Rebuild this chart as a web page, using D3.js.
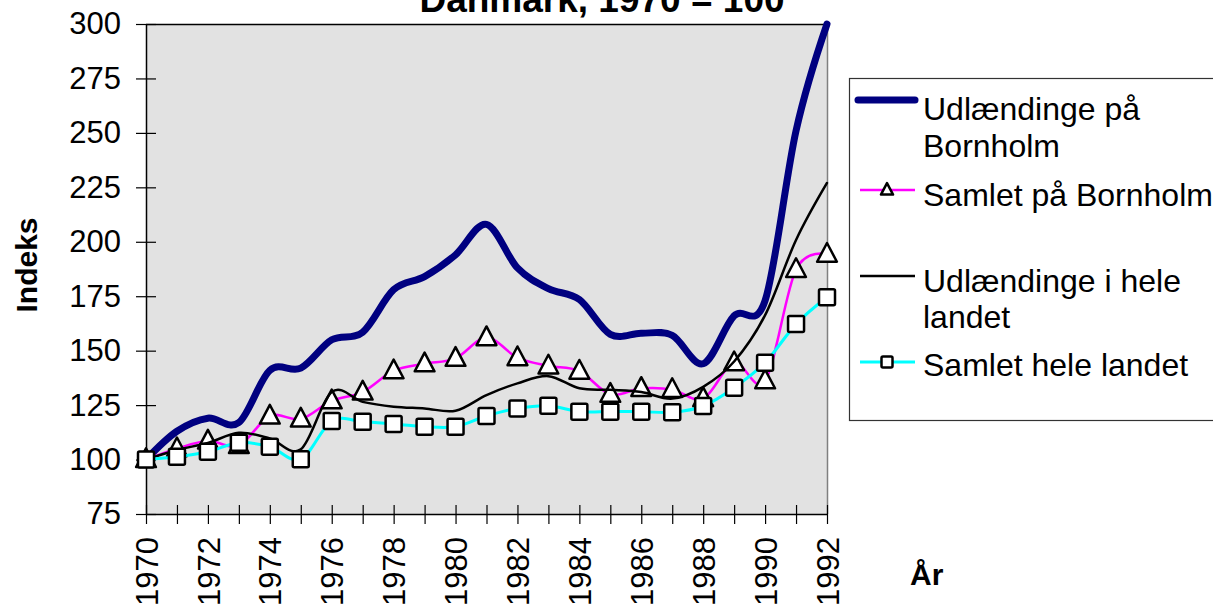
<!DOCTYPE html>
<html>
<head>
<meta charset="utf-8">
<script src="https://cdn.jsdelivr.net/npm/d3@7"></script>
<style>
  body { margin: 0; background: #fff; }
  svg { display: block; font-family: "Liberation Sans", Arial, sans-serif; }
</style>
</head>
<body>
<svg id="chart" width="1213" height="605"></svg>
<script>
// data (index, 1970 = 100)
let years = d3.range(1970, 1993);
let udlBornholm = [100, 113, 119, 117, 141, 142, 155, 158.5, 178, 184, 194, 208, 188, 178.5, 173.5, 157.5, 158, 157, 144, 166, 173, 251, 300];
let samletBornholm = [100, 105, 108.5, 106.5, 120, 118.6, 127, 131, 140.8, 144, 146.5, 156, 146.8, 143, 140.6, 130, 132.7, 132.2, 128, 144.5, 136.2, 187.3, 194.3];
let udlHeleLandet = [100, 104.4, 107.6, 112.3, 109.7, 104.7, 131, 126.5, 124.3, 123.5, 122.4, 129.6, 135, 138.3, 132.7, 132, 131, 128, 133.4, 145, 166.3, 200.8, 227];
let samletHeleLandet = [100, 101.3, 103.6, 107.7, 105.9, 100.1, 117.7, 117.4, 116.3, 115.1, 115.1, 120, 123.5, 124.7, 122, 122, 122, 121.7, 124.6, 133, 144.5, 162.2, 174.5];
let yTicks = [75, 100, 125, 150, 175, 200, 225, 250, 275, 300];

let series = [
    { name: ["Udlændinge på", "Bornholm"], values: udlBornholm, color: "#000080", width: 7, marker: null },
    { name: ["Samlet på Bornholm"], values: samletBornholm, color: "#ff00ff", width: 2.5, marker: "triangle" },
    { name: ["Udlændinge i hele", "landet"], values: udlHeleLandet, color: "#000000", width: 2.5, marker: null },
    { name: ["Samlet hele landet"], values: samletHeleLandet, color: "#00ffff", width: 3, marker: "square" }
];

let svg = d3.select("#chart");

let plotLeft = 146, plotRight = 827, plotTop = 24, plotBottom = 514;

let xScale = d3.scaleLinear().domain([1970, 1992]).range([plotLeft, plotRight]);
let yScale = d3.scaleLinear().domain([75, 300]).range([plotBottom, plotTop]);

// plot area
svg.append("rect")
    .attr("x", plotLeft).attr("y", plotTop)
    .attr("width", plotRight - plotLeft).attr("height", plotBottom - plotTop)
    .attr("fill", "#e2e2e2");
svg.append("line")
    .attr("x1", plotLeft).attr("x2", plotRight).attr("y1", plotTop + 0.5).attr("y2", plotTop + 0.5)
    .attr("stroke", "#000").attr("stroke-width", 1.5);
svg.append("line")
    .attr("x1", plotRight + 0.5).attr("x2", plotRight + 0.5).attr("y1", plotTop).attr("y2", plotBottom)
    .attr("stroke", "#808080").attr("stroke-width", 1.5);

// title (first line falls above the picture)
svg.append("text")
    .attr("x", 602).attr("y", 12)
    .attr("text-anchor", "middle")
    .attr("font-size", 37).attr("font-weight", "bold")
    .text("Danmark, 1970 = 100");

// y axis
let gY = svg.append("g").attr("transform", "translate(" + plotLeft + ",0)");
gY.call(d3.axisLeft(yScale).tickValues(yTicks).tickSize(10).tickSizeOuter(0).tickPadding(15));
gY.selectAll(".tick line").attr("x1", -10).attr("x2", 10).attr("stroke", "#000").attr("stroke-width", 1.2);
gY.select(".domain").attr("stroke", "#000").attr("stroke-width", 1.5);
gY.selectAll(".tick text").attr("font-size", 31).attr("fill", "#000")
    .attr("font-family", "Liberation Sans, Arial, sans-serif");

// x axis
let gX = svg.append("g").attr("transform", "translate(0," + plotBottom + ")");
gX.call(d3.axisBottom(xScale).tickValues(years).tickSize(10).tickSizeOuter(0)
    .tickFormat(d => d % 2 === 0 ? d : ""));
gX.selectAll(".tick line").attr("y1", -9).attr("y2", 10).attr("stroke", "#000").attr("stroke-width", 1.2);
gX.select(".domain").attr("stroke", "#000").attr("stroke-width", 1.5);
gX.selectAll(".tick text")
    .attr("font-size", 31).attr("fill", "#000")
    .attr("font-family", "Liberation Sans, Arial, sans-serif")
    .attr("transform", "rotate(-90)")
    .attr("text-anchor", "end")
    .attr("x", -23).attr("y", 0).attr("dy", "0.36em");

// axis titles
svg.append("text")
    .attr("transform", "translate(37,265) rotate(-90)")
    .attr("text-anchor", "middle")
    .attr("font-size", 30).attr("font-weight", "bold")
    .text("Indeks");
svg.append("text")
    .attr("x", 910).attr("y", 585)
    .attr("font-size", 30).attr("font-weight", "bold")
    .text("År");

// lines
let line = d3.line()
    .x((d, i) => xScale(years[i]))
    .y(d => yScale(d))
    .curve(d3.curveCardinal.tension(0));

let trianglePath = function(s) {
    return "M0," + (-s * 0.62) + "L" + (s * 0.55) + "," + (s * 0.42) + "L" + (-s * 0.55) + "," + (s * 0.42) + "Z";
};

function drawMarkers(g, type, pts, size) {
    if (type === "triangle") {
        g.selectAll("path.mk").data(pts).enter().append("path")
            .attr("class", "mk")
            .attr("transform", d => "translate(" + d[0] + "," + d[1] + ")")
            .attr("d", trianglePath(size))
            .attr("fill", "#fff").attr("stroke", "#000").attr("stroke-width", 2.5)
            .attr("stroke-linejoin", "round");
    } else if (type === "square") {
        g.selectAll("rect.mk").data(pts).enter().append("rect")
            .attr("class", "mk")
            .attr("x", d => d[0] - size / 2).attr("y", d => d[1] - size / 2)
            .attr("width", size).attr("height", size).attr("rx", 1.5)
            .attr("fill", "#fff").attr("stroke", "#000").attr("stroke-width", 2.5);
    }
}

series.forEach(function(s) {
    let g = svg.append("g");
    g.append("path")
        .attr("d", line(s.values))
        .attr("fill", "none")
        .attr("stroke", s.color)
        .attr("stroke-width", s.width)
        .attr("stroke-linecap", "round")
        .attr("stroke-linejoin", "round");
    if (s.marker) {
        drawMarkers(g, s.marker, s.values.map((v, i) => [xScale(years[i]), yScale(v)]), s.marker === "square" ? 16 : 18);
    }
});

// legend
let legend = svg.append("g");
legend.append("rect")
    .attr("x", 849.5).attr("y", 78.5).attr("width", 420).attr("height", 342)
    .attr("fill", "#fff").attr("stroke", "#333").attr("stroke-width", 1.2);

let legendRows = [100, 190, 276, 362];
let legendText = [[120, 157], [206], [292, 328], [376]];

series.forEach(function(s, i) {
    let g = legend.append("g");
    let ly = legendRows[i];
    g.append("line")
        .attr("x1", i === 0 ? 858 : 860).attr("x2", 915)
        .attr("y1", ly).attr("y2", ly)
        .attr("stroke", s.color)
        .attr("stroke-width", i === 0 ? 7 : s.width)
        .attr("stroke-linecap", i === 0 ? "round" : "butt");
    if (s.marker) drawMarkers(g, s.marker, [[887, ly]], 11);
    s.name.forEach(function(t, j) {
        g.append("text")
            .attr("x", 923).attr("y", legendText[i][j])
            .attr("font-size", 32)
            .text(t);
    });
});
</script>
</body>
</html>
